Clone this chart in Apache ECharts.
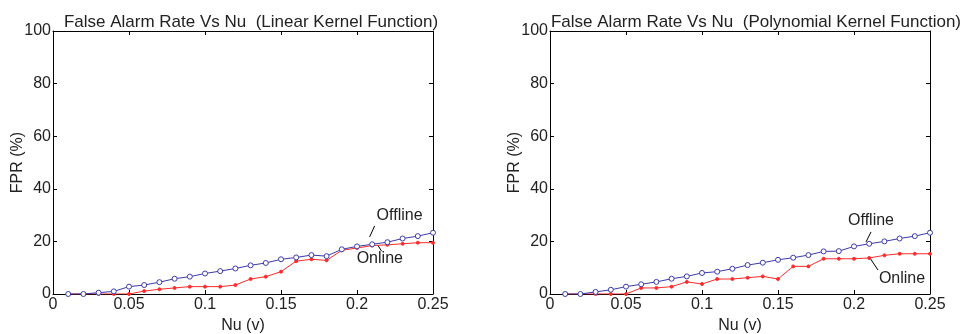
<!DOCTYPE html>
<html>
<head>
<meta charset="utf-8">
<script src="https://cdn.jsdelivr.net/npm/echarts@6/dist/echarts.min.js"></script>
<style>
  html, body { margin: 0; padding: 0; background: #fff; }
  #main { width: 964px; height: 334px; }
</style>
</head>
<body>
<div id="main"></div>
<script>
// nu values 0.01 .. 0.25
var nuValues = [0.01,0.02,0.03,0.04,0.05,0.06,0.07,0.08,0.09,0.10,0.11,0.12,0.13,0.14,0.15,0.16,0.17,0.18,0.19,0.20,0.21,0.22,0.23,0.24,0.25];

// linear kernel
var linearOffline = [0,0,0.5,1,2.8,3.4,4.5,5.8,6.6,7.8,8.7,9.7,10.9,11.8,13.2,13.9,14.8,14.4,17,18.1,18.9,19.7,21.1,22,23.3];
var linearOnline  = [0,0,0,0,0,1.1,1.8,2.3,2.8,2.8,2.8,3.4,5.7,6.6,8.5,12.5,13.2,12.8,16.6,17.5,18.4,18.7,19.1,19.5,19.5];

// polynomial kernel
var polyOffline = [0,0,0.8,1.6,2.8,3.7,4.6,5.8,6.7,8,8.5,9.6,11,11.9,13,13.8,14.8,16.2,16.3,18.1,19.1,20,21.1,22,23.3];
var polyOnline  = [0,0,0,0,0,2.3,2.3,2.8,4.6,3.8,5.7,5.7,6.2,6.7,5.7,10.5,10.5,13.4,13.4,13.4,13.7,14.7,15.3,15.3,15.3];

var titles = ['False Alarm Rate Vs Nu  (Linear Kernel Function)', 'False Alarm Rate Vs Nu  (Polynomial Kernel Function)'];

var fontFam = 'Liberation Sans, Arial, sans-serif';
var txtColor = '#222';
var blue = '#3a3aaa';
var red = '#ff2a2a';

function pairs(ys){
  var out = [];
  for (var i = 0; i < nuValues.length; i++) out.push([nuValues[i], ys[i]]);
  return out;
}

var grids = [
  {left: 53, right: 531, top: 31, bottom: 40, outerBoundsMode: 'none'},
  {left: 550, right: 34, top: 31, bottom: 40, outerBoundsMode: 'none'}
];

var xAxes = [], yAxes = [];
for (var g = 0; g < 2; g++) {
  // bottom / left axes carry the labels, top / right just close the box
  xAxes.push({
    type: 'value', gridIndex: g, position: 'bottom', min: 0, max: 0.25, interval: 0.05,
    name: 'Nu (v)', nameLocation: 'middle', nameGap: 21,
    nameTextStyle: {fontFamily: fontFam, fontSize: 16, color: txtColor},
    axisLine: {onZero: false, lineStyle: {color: '#000', width: 1}},
    axisTick: {inside: true, length: 4, lineStyle: {color: '#000'}},
    axisLabel: {fontFamily: fontFam, fontSize: 16, color: txtColor, margin: 3},
    splitLine: {show: false}
  });
  xAxes.push({
    type: 'value', gridIndex: g, position: 'top', min: 0, max: 0.25, interval: 0.05,
    axisLine: {onZero: false, lineStyle: {color: '#000', width: 1}},
    axisTick: {inside: true, length: 4, lineStyle: {color: '#000'}},
    axisLabel: {show: false},
    splitLine: {show: false}
  });
  yAxes.push({
    type: 'value', gridIndex: g, position: 'left', min: 0, max: 100, interval: 20,
    name: 'FPR (%)', nameLocation: 'middle', nameGap: 27, nameMoveOverlap: false,
    nameTextStyle: {fontFamily: fontFam, fontSize: 16, color: txtColor},
    axisLine: {show: true, onZero: false, lineStyle: {color: '#000', width: 1}},
    axisTick: {show: true, inside: true, length: 4, lineStyle: {color: '#000'}},
    axisLabel: {fontFamily: fontFam, fontSize: 16, color: txtColor, margin: 2},
    splitLine: {show: false}
  });
  yAxes.push({
    type: 'value', gridIndex: g, position: 'right', min: 0, max: 100, interval: 20,
    axisLine: {show: true, onZero: false, lineStyle: {color: '#000', width: 1}},
    axisTick: {show: true, inside: true, length: 4, lineStyle: {color: '#000'}},
    axisLabel: {show: false},
    splitLine: {show: false}
  });
}

function lineSeries(name, g, ys, color, symbol, size, hollow){
  return {
    name: name, type: 'line', xAxisIndex: g * 2, yAxisIndex: g * 2,
    data: pairs(ys), symbol: symbol, symbolSize: size, showSymbol: true,
    lineStyle: {color: color, width: 1},
    itemStyle: {color: hollow ? '#fff' : color, borderColor: color, borderWidth: 1},
    animation: false, z: hollow ? 3 : 2
  };
}

var chart = echarts.init(document.getElementById('main'));
chart.setOption({
  animation: false,
  title: [
    {text: titles[0], left: 246, textAlign: 'center', top: 9,
     textStyle: {fontFamily: fontFam, fontSize: 17, fontWeight: 'normal', color: txtColor}},
    {text: titles[1], left: 751, textAlign: 'center', top: 9,
     textStyle: {fontFamily: fontFam, fontSize: 17, fontWeight: 'normal', color: txtColor}}
  ],
  grid: grids,
  xAxis: xAxes,
  yAxis: yAxes,
  series: [
    lineSeries('Online', 0, linearOnline, red, 'circle', 3, false),
    lineSeries('Offline', 0, linearOffline, blue, 'circle', 5, true),
    lineSeries('Online', 1, polyOnline, red, 'circle', 3, false),
    lineSeries('Offline', 1, polyOffline, blue, 'circle', 5, true)
  ]
});

// annotations placed in data coordinates
var notes = [
  {g: 0, text: 'Offline', at: [0.228, 29.7], from: [0.2116, 25.9], to: [0.2083, 21.7]},
  {g: 0, text: 'Online',  at: [0.215, 13.3], from: [0.2136, 18.6], to: [0.2162, 16.3]},
  {g: 1, text: 'Offline', at: [0.2112, 28.1], from: [0.2112, 23.6], to: [0.2079, 19.8]},
  {g: 1, text: 'Online',  at: [0.2316, 5.7], from: [0.2105, 13.7], to: [0.2158, 9.1]}
];
var gfx = [];
notes.forEach(function(n){
  var p = chart.convertToPixel({gridIndex: n.g}, n.at);
  var a = chart.convertToPixel({gridIndex: n.g}, n.from);
  var b = chart.convertToPixel({gridIndex: n.g}, n.to);
  gfx.push({type: 'text', x: p[0], y: p[1], style: {text: n.text, fill: txtColor,
    font: '16px ' + fontFam, align: 'center', verticalAlign: 'middle'}});
  gfx.push({type: 'line', shape: {x1: a[0], y1: a[1], x2: b[0], y2: b[1]},
    style: {stroke: '#000', lineWidth: 1}});
});
chart.setOption({graphic: gfx});
</script>
</body>
</html>
